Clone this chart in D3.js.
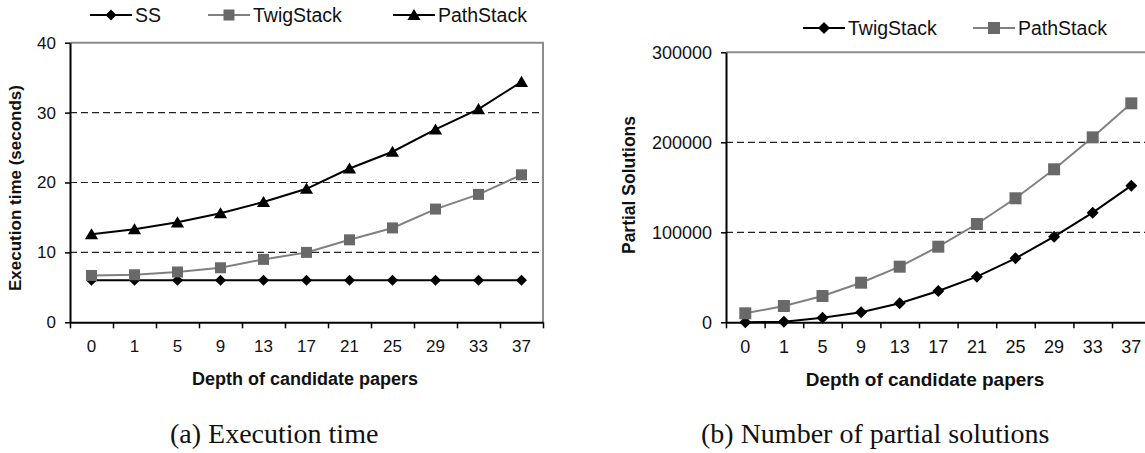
<!DOCTYPE html>
<html>
<head>
<meta charset="utf-8">
<script src="https://cdn.jsdelivr.net/npm/d3@7"></script>
<style>
	body { margin: 0; background: #fff; }
	svg { display: block; font-family: "Liberation Sans", Arial, sans-serif; }
</style>
</head>
<body>
<div id="div"></div>
<script>
// values
let depths = ["0", "1", "5", "9", "13", "17", "21", "25", "29", "33", "37"]
let ssTime = [6.0, 6.0, 6.0, 6.0, 6.0, 6.0, 6.0, 6.0, 6.0, 6.0, 6.0]
let twigTime = [6.7, 6.8, 7.2, 7.8, 9.0, 10.0, 11.8, 13.5, 16.2, 18.3, 21.1]
let pathTime = [12.6, 13.3, 14.3, 15.6, 17.2, 19.1, 22.0, 24.4, 27.6, 30.5, 34.4]
let twigPartial = [0, 700, 5100, 11100, 21100, 34800, 50700, 71100, 95100, 121800, 151800]
let pathPartial = [10000, 18100, 29200, 44000, 61800, 84000, 109200, 137800, 170000, 205500, 243300]
let timeTicks = [0, 10, 20, 30, 40]
let partialTicks = [0, 100000, 200000, 300000]

let w = 1145, h = 453,
	svg = d3.select("#div").append("svg")
		.attr("width", w)
		.attr("height", h)

let black = "#000", grey = "#808080", greyFill = "#696969"

// marker shapes, centred on 0,0
let shapes = {
	diamond: s => `M0,${-s / 2}L${s / 2},0L0,${s / 2}L${-s / 2},0Z`,
	square: s => `M${-s / 2},${-s / 2}h${s}v${s}h${-s}Z`,
	triangle: s => `M0,${-s * 0.5}L${s * 0.55},${s * 0.42}L${-s * 0.55},${s * 0.42}Z`
}

let drawPanel = p => {
	let g = svg.append("g")

	let x = d3.scaleBand()
		.domain(depths)
		.range([p.left, p.right])
		.padding(0)

	let xEdges = d3.scaleLinear()
		.domain([0, depths.length])
		.range([p.left, p.right])

	let y = d3.scaleLinear()
		.domain([0, p.max])
		.range([p.bottom, p.top])

	// dashed grid
	g.append("g")
		.selectAll("line")
		.data(p.ticks.slice(1, -1))
		.enter()
		.append("line")
		.attr("x1", p.left)
		.attr("x2", p.right)
		.attr("y1", d => y(d))
		.attr("y2", d => y(d))
		.attr("stroke", "#222")
		.attr("stroke-width", 1.2)
		.attr("stroke-dasharray", "7,4")

	// grey frame on top and right
	g.append("path")
		.attr("d", `M${p.left},${y(p.max)}H${p.right}V${p.bottom}`)
		.attr("fill", "none")
		.attr("stroke", "#8c8c8c")
		.attr("stroke-width", 2)

	// y axis
	let yAxis = g.append("g")
		.attr("transform", "translate(" + p.left + ",0)")
		.call(d3.axisLeft(y).tickValues(p.ticks).tickFormat(d3.format("d")).tickSize(5).tickPadding(9).tickSizeOuter(0))
	yAxis.select(".domain").attr("stroke-width", 2)
	yAxis.selectAll(".tick line").attr("stroke-width", 1.5)
	yAxis.selectAll("text").attr("font-size", p.tickFont).attr("fill", "#111").attr("font-family", "Liberation Sans, Arial")

	// x axis: ticks sit on category edges
	let edgeAxis = g.append("g")
		.attr("transform", "translate(0," + p.bottom + ")")
		.call(d3.axisBottom(xEdges).ticks(depths.length).tickFormat("").tickSize(6).tickSizeOuter(0))
	edgeAxis.select(".domain").attr("stroke-width", 2)
	edgeAxis.selectAll(".tick line").attr("stroke-width", 1.5)

	let labelAxis = g.append("g")
		.attr("transform", "translate(0," + p.bottom + ")")
		.call(d3.axisBottom(x).tickSize(0).tickPadding(p.labelPad))
	labelAxis.select(".domain").remove()
	labelAxis.selectAll("text").attr("font-size", p.tickFont).attr("fill", "#111").attr("font-family", "Liberation Sans, Arial")

	// series
	let cx = d => x(d) + x.bandwidth() / 2
	p.series.forEach(s => {
		let line = d3.line()
			.x((d, i) => cx(depths[i]))
			.y(d => y(d))
		g.append("path")
			.datum(s.values)
			.attr("d", line)
			.attr("fill", "none")
			.attr("stroke", s.stroke)
			.attr("stroke-width", 2)
		g.append("g")
			.selectAll("path")
			.data(s.values)
			.enter()
			.append("path")
			.attr("transform", (d, i) => "translate(" + cx(depths[i]) + "," + y(d) + ")")
			.attr("d", shapes[s.shape](s.size))
			.attr("fill", s.fill)
	})

	// legend
	p.series.forEach((s, i) => {
		let lx = p.legendX[i], ly = p.legendY
		g.append("line")
			.attr("x1", lx)
			.attr("x2", lx + 42)
			.attr("y1", ly)
			.attr("y2", ly)
			.attr("stroke", s.stroke)
			.attr("stroke-width", 2)
		g.append("path")
			.attr("transform", "translate(" + (lx + 21) + "," + ly + ")")
			.attr("d", shapes[s.shape](s.size))
			.attr("fill", s.fill)
		g.append("text")
			.attr("x", lx + 45)
			.attr("y", ly)
			.attr("dy", "0.35em")
			.attr("font-size", 19.5)
			.attr("fill", "#111")
			.text(s.name)
	})

	// axis titles
	g.append("text")
		.attr("x", p.xTitleX)
		.attr("y", 379)
		.attr("dy", "0.35em")
		.attr("text-anchor", "middle")
		.attr("font-weight", "bold")
		.attr("font-size", p.xTitleFont)
		.attr("fill", "#111")
		.text("Depth of candidate papers")

	g.append("text")
		.attr("transform", "translate(" + p.yTitleX + "," + p.yTitleY + ") rotate(-90)")
		.attr("dy", "0.35em")
		.attr("text-anchor", "middle")
		.attr("font-weight", "bold")
		.attr("font-size", p.yTitleFont)
		.attr("fill", "#111")
		.text(p.yTitle)

	// caption under the panel
	g.append("text")
		.attr("x", p.captionX)
		.attr("y", 443)
		.attr("font-family", "Liberation Serif, serif")
		.attr("font-size", 28)
		.attr("fill", "#111")
		.text(p.caption)
}

drawPanel({
	left: 70, right: 543, top: 42.7, bottom: 322.3,
	max: 40, ticks: timeTicks, tickFont: 17, labelPad: 18,
	series: [
		{name: "SS", values: ssTime, stroke: black, fill: black, shape: "diamond", size: 11},
		{name: "TwigStack", values: twigTime, stroke: grey, fill: greyFill, shape: "square", size: 11},
		{name: "PathStack", values: pathTime, stroke: black, fill: black, shape: "triangle", size: 12}
	],
	legendX: [90, 208, 393], legendY: 15,
	xTitleX: 305, xTitleFont: 18,
	yTitle: "Execution time (seconds)", yTitleX: 15, yTitleY: 188, yTitleFont: 17,
	caption: "(a) Execution time", captionX: 170
})

drawPanel({
	left: 726, right: 1150.6, top: 52.3, bottom: 322.3,
	max: 300000, ticks: partialTicks, tickFont: 18, labelPad: 18,
	series: [
		{name: "TwigStack", values: twigPartial, stroke: black, fill: black, shape: "diamond", size: 12},
		{name: "PathStack", values: pathPartial, stroke: grey, fill: greyFill, shape: "square", size: 12}
	],
	legendX: [803, 973], legendY: 28,
	xTitleX: 925, xTitleFont: 19,
	yTitle: "Partial Solutions", yTitleX: 629, yTitleY: 185, yTitleFont: 17.5,
	caption: "(b) Number of partial solutions", captionX: 701
})
</script>
</body>
</html>
